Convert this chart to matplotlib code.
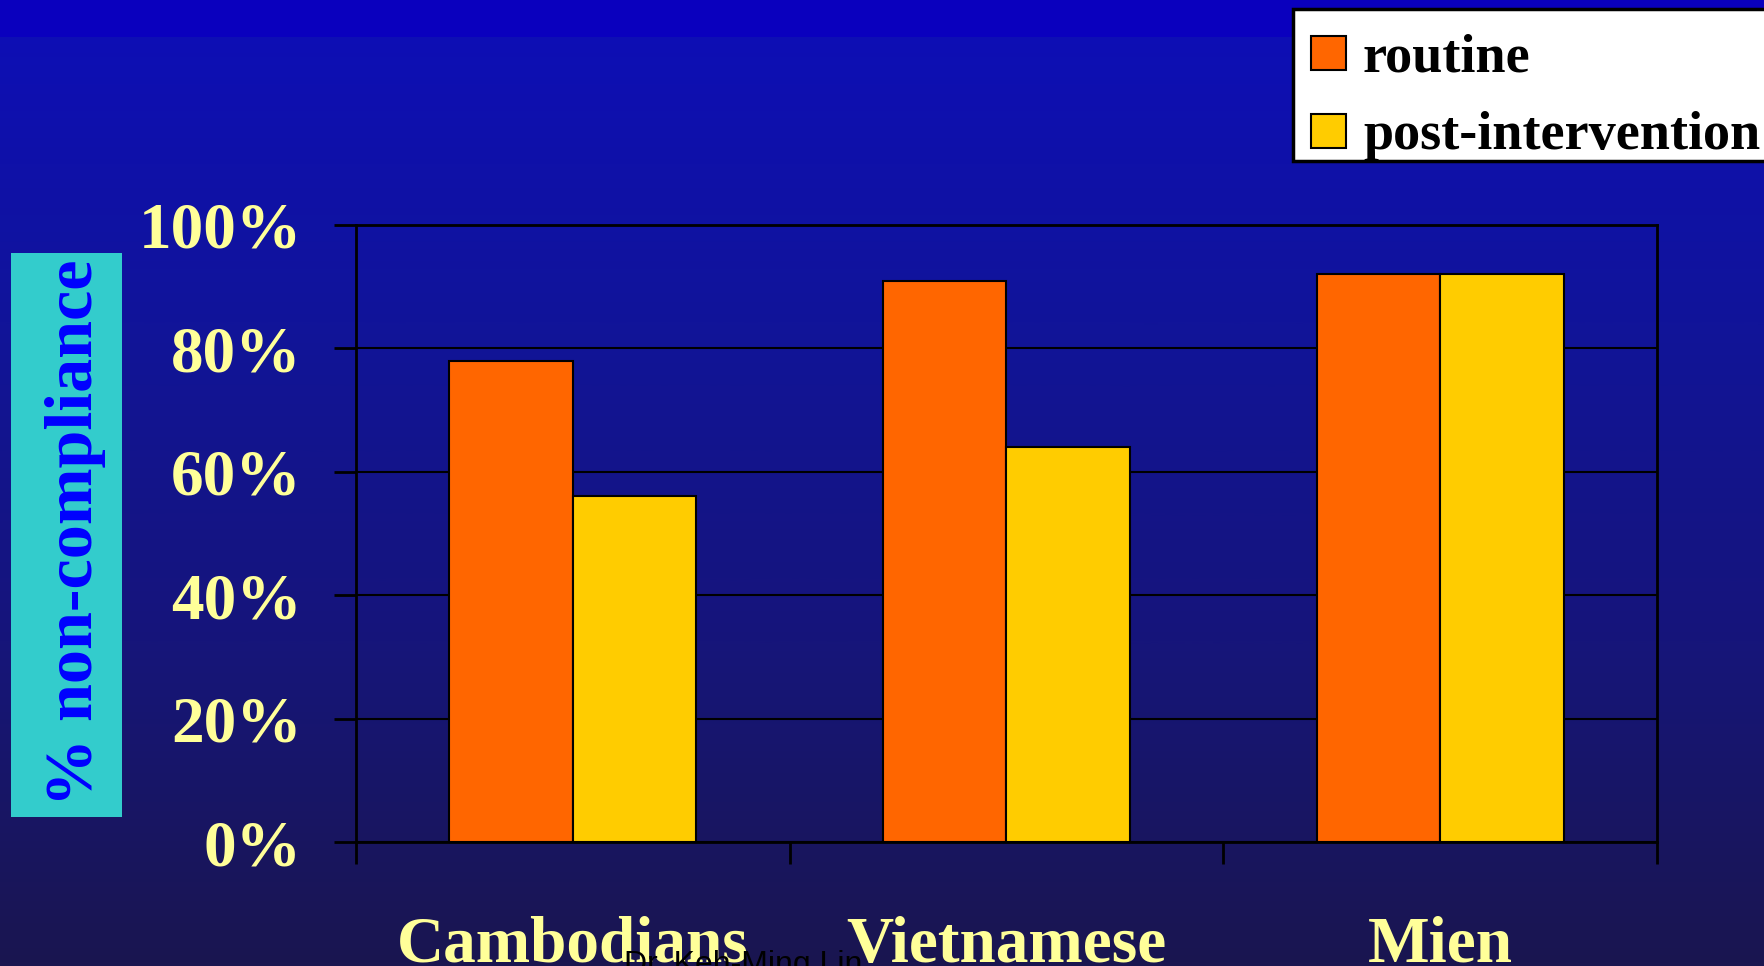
import numpy as np
import matplotlib
matplotlib.use("Agg")
import matplotlib.pyplot as plt
from matplotlib.patches import Rectangle
from matplotlib.colors import LinearSegmentedColormap
import matplotlib.transforms as mtransforms

# Data
groups = ['Cambodians', 'Vietnamese', 'Mien']
routine = [78, 91, 92]
post_intervention = [56, 64, 92]
series_names = ['routine', 'post-intervention']
yticks = [0, 20, 40, 60, 80, 100]
ytick_labels = ['0%', '20%', '40%', '60%', '80%', '100%']

COLORS = {
    'routine': '#FF6600',
    'post': '#FFCC00',
    'label': '#FFFF99',
    'box': '#33CCCC',
    'ylabel': '#0000FF',
}
SERIF = 'Liberation Serif'

W, H = 1765, 966
fig = plt.figure(figsize=(W / 100, H / 100), dpi=100)


def px(x, y):
    """pixel (from top-left) -> figure fraction"""
    return x / W, (H - y) / H


# Background gradient
bg = fig.add_axes([0, 0, 1, 1])
bg.axis('off')
cmap = LinearSegmentedColormap.from_list('bg', ['#0D0EB8', '#111499', '#16157A', '#1A1650'])
grad = np.linspace(0, 1, 400).reshape(-1, 1)
bg.imshow(grad, aspect='auto', cmap=cmap, extent=[0, 1, 0, 1], origin='upper')
bg.add_patch(Rectangle((0, 1 - 37 / H), 1, 37 / H, facecolor='#0A00BE', edgecolor='none'))
bg.set_xlim(0, 1)
bg.set_ylim(0, 1)

# Main axes
ax = fig.add_axes([356 / W, (H - 842) / H, 1301 / W, 617 / H])
ax.patch.set_alpha(0)
x = np.arange(len(groups))
bw = 0.285
bars_r = ax.bar(x - bw / 2, routine, bw, color=COLORS['routine'], edgecolor='black', linewidth=1.5, zorder=3)
bars_p = ax.bar(x + bw / 2, post_intervention, bw, color=COLORS['post'], edgecolor='black', linewidth=1.5, zorder=3)

ax.set_xlim(-0.5, len(groups) - 0.5)
ax.set_ylim(0, 100)
ax.set_yticks(yticks)
ax.set_yticklabels(ytick_labels, fontsize=47, fontweight='bold', family=SERIF, color=COLORS['label'])
ax.tick_params(axis='y', length=16, width=2, color='black', pad=23)
ax.set_xticks(np.arange(len(groups) + 1) - 0.5)
ax.set_xticklabels([])
ax.tick_params(axis='x', length=16, width=2, color='black')
ax.grid(axis='y', color='black', linewidth=1.5, zorder=0)
for s in ax.spines.values():
    s.set_color('black')
    s.set_linewidth(2)

# Category labels
trans = mtransforms.blended_transform_factory(ax.transData, fig.transFigure)
for xi, g in zip(x, groups):
    ax.text(xi, (H - 962) / H, g, transform=trans, ha='center', va='baseline',
            fontsize=47, fontweight='bold', family=SERIF, color=COLORS['label'])

# Y label with cyan box
fig.patches.append(Rectangle(px(11, 817), 111 / W, 564 / H,
                             facecolor=COLORS['box'], edgecolor='none',
                             transform=fig.transFigure, zorder=1))
fig.text(*px(76, 533), '% non-compliance', rotation=90, ha='center', va='center',
         fontsize=49, fontweight='bold', family=SERIF, color=COLORS['ylabel'], zorder=2)

# Legend (drawn as a box at the top right, running off the edge)
fig.patches.append(Rectangle(px(1293, 161), 500 / W, 152 / H, facecolor='white',
                             edgecolor='black', linewidth=2.5,
                             transform=fig.transFigure, zorder=5))
for name, bars, yc, yb in [(series_names[0], bars_r, 53, 71),
                           (series_names[1], bars_p, 131, 149)]:
    fig.patches.append(Rectangle(px(1311, yc + 17), 35 / W, 34 / H,
                                 facecolor=bars[0].get_facecolor(), edgecolor='black',
                                 linewidth=1.5, transform=fig.transFigure, zorder=6))
    fig.text(*px(1363, yb), name, ha='left', va='baseline', fontsize=39,
             fontweight='bold', family=SERIF, color='black', zorder=6)

# Footer
fig.text(*px(743, 973), 'Dr. Keh-Ming Lin', ha='center', va='baseline',
         fontsize=23, family='Liberation Sans', color='black')

fig.savefig('out.png', dpi=100)
